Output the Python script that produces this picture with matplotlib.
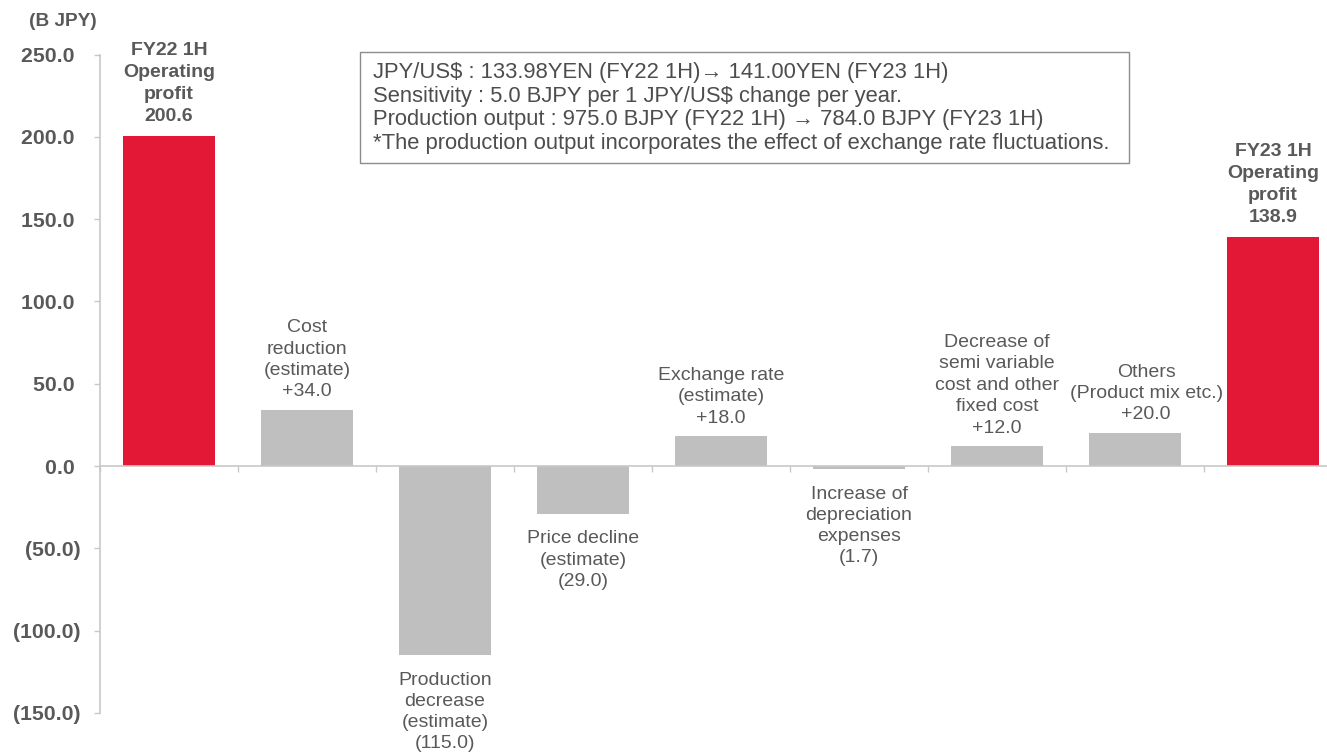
import matplotlib
matplotlib.use("Agg")
import matplotlib.pyplot as plt
from matplotlib.patches import Rectangle

plt.rcParams['font.family'] = ['Liberation Sans', 'DejaVu Sans']

# Operating profit bridge FY22 1H -> FY23 1H (B JPY)
labels = [
    "FY22 1H\nOperating\nprofit",
    "Cost\nreduction\n(estimate)",
    "Production\ndecrease\n(estimate)",
    "Price decline\n(estimate)",
    "Exchange rate\n(estimate)",
    "Increase of\ndepreciation\nexpenses",
    "Decrease of\nsemi variable\ncost and other\nfixed cost",
    "Others\n(Product mix etc.)",
    "FY23 1H\nOperating\nprofit",
]
values = [200.6, 34.0, -115.0, -29.0, 18.0, -1.7, 12.0, 20.0, 138.9]
is_total = [True, False, False, False, False, False, False, False, True]

note_lines = [
    "JPY/US$ : 133.98YEN (FY22 1H)\u2192 141.00YEN (FY23 1H)",
    "Sensitivity : 5.0 BJPY per 1 JPY/US$ change per year.",
    "Production output : 975.0 BJPY (FY22 1H) \u2192 784.0 BJPY (FY23 1H)",
    "*The production output incorporates the effect of exchange rate fluctuations.",
]

RED = '#E31837'
GREY = '#BFBFBF'
TEXT = '#595959'
AXIS = '#C8C8C8'

# horizontal nudge (points) so neighbouring labels don't collide
label_dx = [0, 0, 0, 0, 0, 0, 0, 8, 0]


def fmt_change(v):
    return f"+{v:.1f}" if v >= 0 else f"({abs(v):.1f})"


def fmt_tick(v):
    return f"{v:.1f} " if v >= 0 else f"({abs(v):.1f})"


fig = plt.figure(figsize=(13.27, 7.53), dpi=100)
ax = fig.add_axes([100 / 1327, 40 / 753, 1242 / 1327, 658.5 / 753])

x = list(range(len(values)))
colors = [RED if t else GREY for t in is_total]
ax.bar(x, values, width=0.667, color=colors, zorder=2)

ax.set_xlim(-0.5, len(values) - 0.5)
ax.set_ylim(-150, 250)
ax.set_yticks([-150, -100, -50, 0, 50, 100, 150, 200, 250])
ax.set_yticklabels([fmt_tick(v) for v in ax.get_yticks()],
                   fontsize=15.3, fontweight='bold', color=TEXT)
ax.set_xticks([i - 0.5 for i in range(len(values) + 1)])
ax.set_xticklabels([])

for side in ['top', 'right']:
    ax.spines[side].set_visible(False)
ax.spines['bottom'].set_position(('data', 0))
ax.spines['bottom'].set_color(AXIS)
ax.spines['left'].set_color(AXIS)
ax.spines['bottom'].set_linewidth(1.2)
ax.spines['left'].set_linewidth(1.2)
ax.tick_params(axis='y', direction='out', length=4, width=1, color=AXIS, pad=10)
ax.tick_params(axis='x', direction='out', length=4, width=1, color=AXIS)

# value labels
for i, (lab, v, tot) in enumerate(zip(labels, values, is_total)):
    dx = label_dx[i]
    if tot:
        ax.annotate(f"{lab}\n{v:.1f}", xy=(i, v), xytext=(dx, 8),
                    textcoords='offset points', ha='center', va='bottom',
                    fontsize=14, fontweight='bold', color=TEXT,
                    linespacing=1.38)
    elif v >= 0:
        ax.annotate(f"{lab}\n{fmt_change(v)}", xy=(i, v), xytext=(dx, 7),
                    textcoords='offset points', ha='center', va='bottom',
                    fontsize=14, color=TEXT, linespacing=1.34)
    else:
        ax.annotate(f"{lab}\n{fmt_change(v)}", xy=(i, v),
                    xytext=(dx, -12), textcoords='offset points',
                    ha='center', va='top', fontsize=14, color=TEXT,
                    linespacing=1.31)

fig.text(63 / 1327, 1 - 21 / 753, "(B JPY)", ha='center', va='center',
         fontsize=13.7, fontweight='bold', color=TEXT)

# exchange rate note box
fig.add_artist(Rectangle((360 / 1327, 1 - 163 / 753), 769 / 1327, 111 / 753,
                         transform=fig.transFigure, facecolor='white',
                         edgecolor='#8C8C8C', linewidth=1.0, zorder=5))
fig.text(373 / 1327, 1 - 108 / 753, "\n".join(note_lines), ha='left',
         va='center', fontsize=15.8, color='#4D4D4D', linespacing=1.18,
         zorder=6)

fig.savefig("out.png", dpi=100)
